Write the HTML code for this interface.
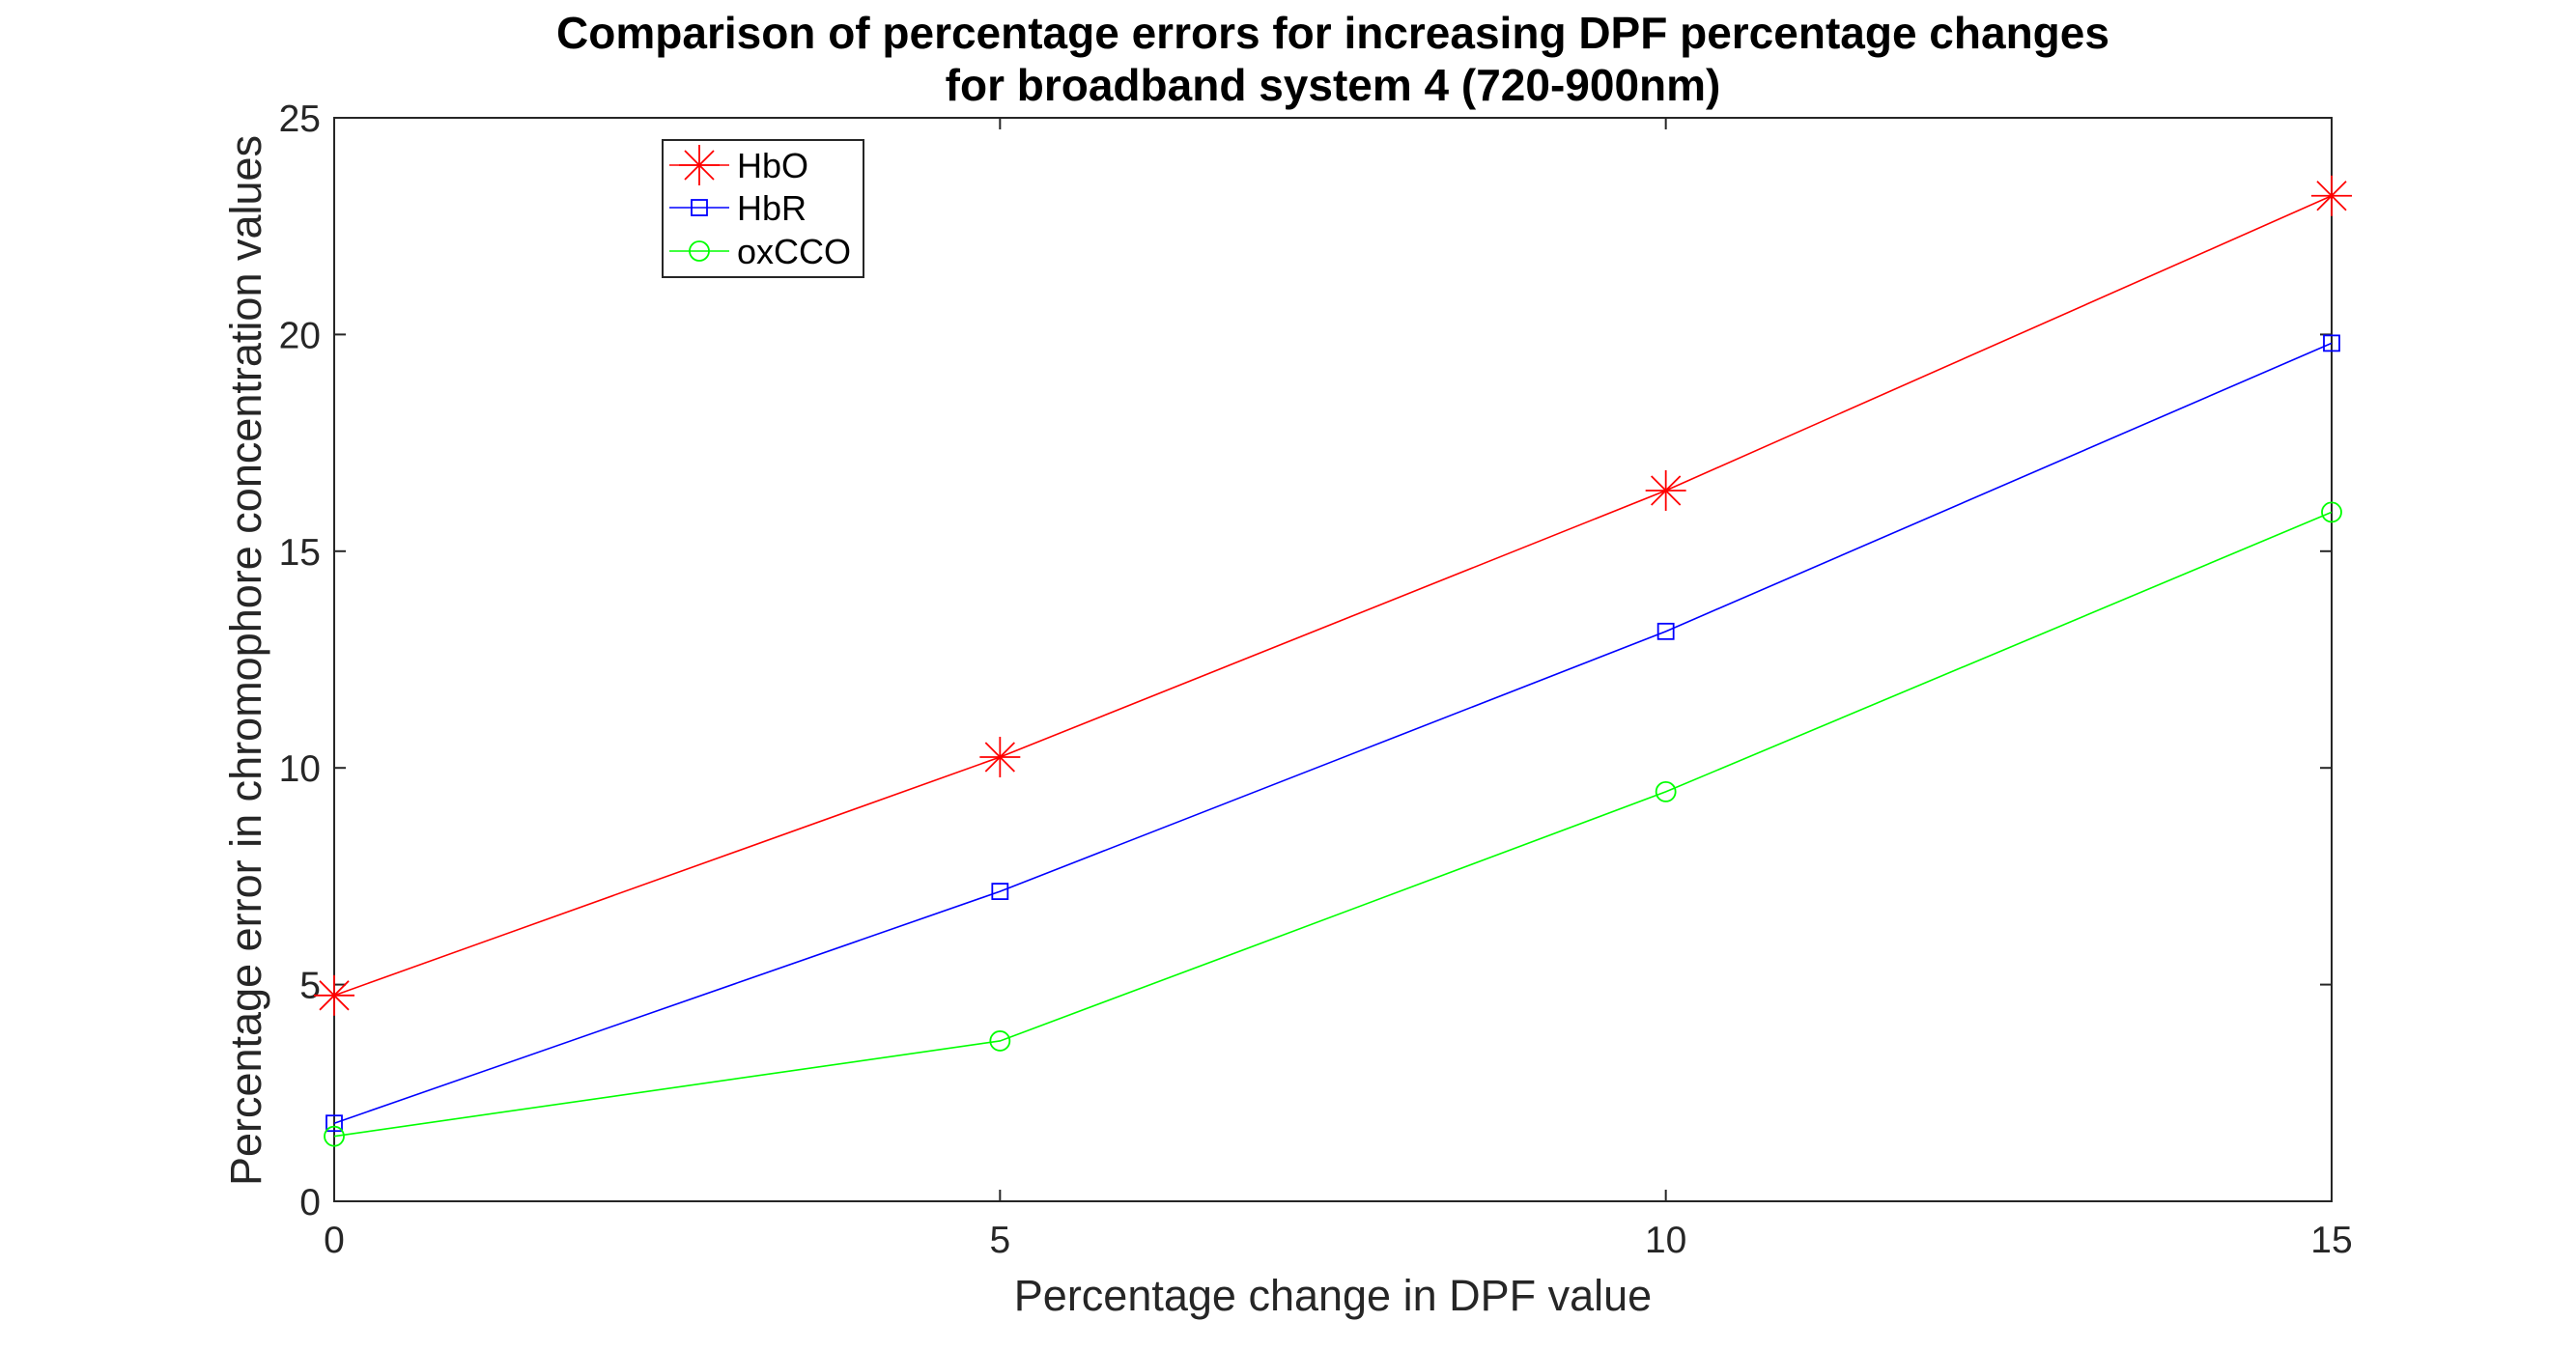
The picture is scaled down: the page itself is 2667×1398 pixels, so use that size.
<!DOCTYPE html>
<html><head><meta charset="utf-8"><style>
html,body{margin:0;padding:0;background:#fff;}
svg{display:block;font-family:"Liberation Sans",Arial,sans-serif;}
</style></head><body>
<svg id="chart" width="2667" height="1398" viewBox="0 0 2667 1398" xmlns="http://www.w3.org/2000/svg">
<text x="1380" y="50" text-anchor="middle" font-size="46" font-weight="bold" fill="#000">Comparison of percentage errors for increasing DPF percentage changes</text>
<text x="1380" y="104" text-anchor="middle" font-size="46" font-weight="bold" fill="#000">for broadband system 4 (720-900nm)</text>
<g id="axes"></g>
<g id="series"></g>
<text x="1380" y="1357" text-anchor="middle" font-size="45" fill="#262626">Percentage change in DPF value</text>
<text transform="translate(270,684) rotate(-90)" text-anchor="middle" font-size="45" fill="#262626">Percentage error in chromophore concentration values</text>
<g id="legend"></g>
</svg>
<script>
const xValues=[0,5,10,15];
const hboValues=[4.75,10.25,16.4,23.2];
const hbrValues=[1.8,7.15,13.15,19.8];
const oxccoValues=[1.5,3.7,9.45,15.9];
const xTicks=[0,5,10,15];
const yTicks=[0,5,10,15,20,25];
const seriesNames=["HbO","HbR","oxCCO"];

const NS="http://www.w3.org/2000/svg";
const L=346,R=2414,T=122,B=1244;
const xs=v=>L+(v-0)/15*(R-L);
const ys=v=>B-(v-0)/25*(B-T);
function mk(tag,attrs,parent){const e=document.createElementNS(NS,tag);for(const k in attrs)e.setAttribute(k,attrs[k]);parent.appendChild(e);return e;}
const axes=document.getElementById('axes');
const frame=mk('rect',{x:L,y:T,width:R-L,height:B-T,fill:'none',stroke:'#262626','stroke-width':2},axes);


xTicks.forEach(t=>{
  const x=xs(t);
  const a=mk('line',{x1:x,y1:B,x2:x,y2:B-12,stroke:'#262626','stroke-width':2},axes);
  
  
  const b=mk('line',{x1:x,y1:T,x2:x,y2:T+12,stroke:'#262626','stroke-width':2},axes);
  
  
  const tx=mk('text',{x:x,y:B+53,'text-anchor':'middle','font-size':39,fill:'#262626'},axes);
  tx.textContent=t;
  
  
});
yTicks.forEach(t=>{
  const y=ys(t);
  const a=mk('line',{x1:L,y1:y,x2:L+12,y2:y,stroke:'#262626','stroke-width':2},axes);
  
  
  const b=mk('line',{x1:R,y1:y,x2:R-12,y2:y,stroke:'#262626','stroke-width':2},axes);
  
  
  const tx=mk('text',{x:L-14,y:y+14,'text-anchor':'end','font-size':39,fill:'#262626'},axes);
  tx.textContent=t;
  
  
});
function marker(type,cx,cy,color,parent){
  const g=mk('g',{stroke:color,fill:'none','stroke-width':1.8},parent);
  if(type==='star'){
    const r=21,d=15;
    mk('line',{x1:cx-r,y1:cy,x2:cx+r,y2:cy},g);
    mk('line',{x1:cx,y1:cy-r,x2:cx,y2:cy+r},g);
    mk('line',{x1:cx-d,y1:cy-d,x2:cx+d,y2:cy+d},g);
    mk('line',{x1:cx+d,y1:cy-d,x2:cx-d,y2:cy+d},g);
  }else if(type==='square'){
    mk('rect',{x:cx-8,y:cy-8,width:16,height:16},g);
  }else{
    mk('circle',{cx:cx,cy:cy,r:10},g);
  }
  return g;
}
const sData=[hboValues,hbrValues,oxccoValues];
const colors=['#ff0000','#0000ff','#00ff00'];
const mtypes=['star','square','circle'];
const sg=document.getElementById('series');
sData.forEach((vals,i)=>{
  const pts=vals.map((v,j)=>xs(xValues[j])+','+ys(v)).join(' ');
  const pl=mk('polyline',{points:pts,fill:'none',stroke:colors[i],'stroke-width':1.6},sg);
  
  
  vals.forEach((v,j)=>{
    const m=marker(mtypes[i],xs(xValues[j]),ys(v),colors[i],sg);
    
    
  });
});
const lg=document.getElementById('legend');
const box=mk('rect',{x:686,y:145,width:208,height:142,fill:'#fff',stroke:'#262626','stroke-width':2},lg);


const rowsY=[171,215,260];
seriesNames.forEach((n,i)=>{
  const ln=mk('line',{x1:693,y1:rowsY[i],x2:755,y2:rowsY[i],stroke:colors[i],'stroke-width':1.6},lg);
  
  
  const m=marker(mtypes[i],724,rowsY[i],colors[i],lg);
  
  
  const tx=mk('text',{x:763,y:rowsY[i]+13,'font-size':36,fill:'#000'},lg);
  tx.textContent=n;
  
  
});
</script>
</body></html>
